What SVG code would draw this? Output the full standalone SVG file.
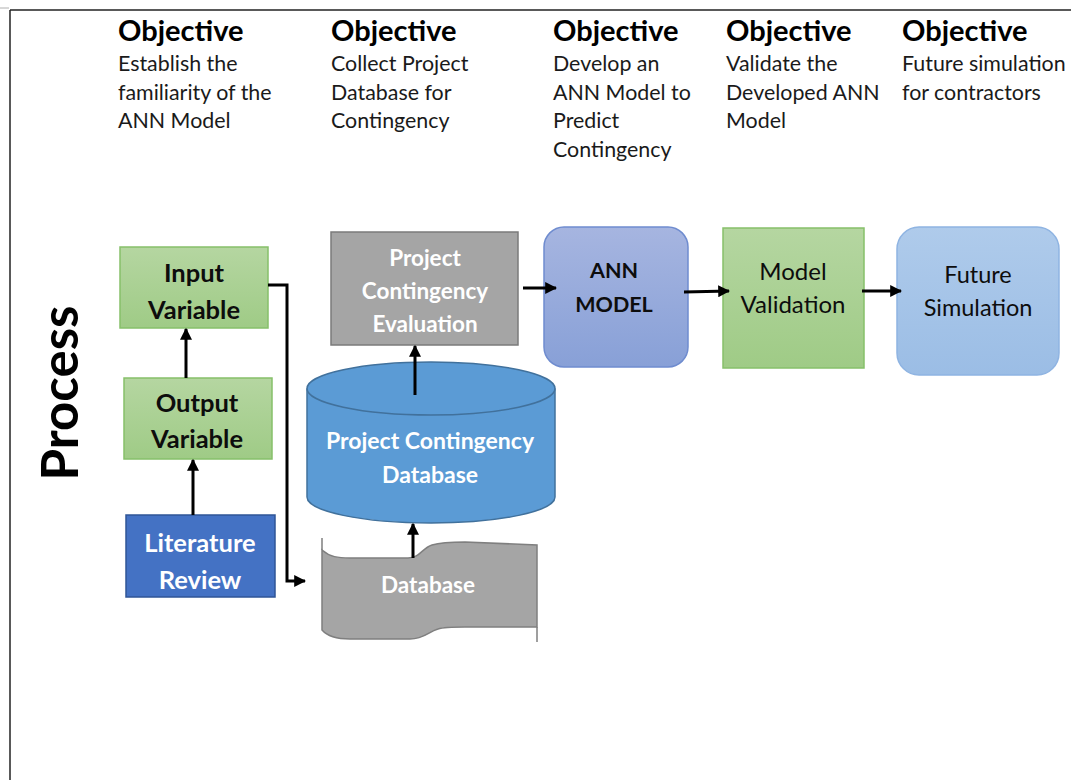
<svg xmlns="http://www.w3.org/2000/svg" width="1071" height="780" viewBox="0 0 1071 780">
  <style>
    .hd { font-family: Lato, "Liberation Sans", sans-serif; font-weight: 700; font-size: 29px; fill: #000; }
    .bd { font-family: Lato, "Liberation Sans", sans-serif; font-size: 21.4px; fill: #1a1a1a; }
    .lb { font-family: Lato, "Liberation Sans", sans-serif; font-weight: 700; text-anchor: middle; }
    .lr { font-family: Lato, "Liberation Sans", sans-serif; font-weight: 400; text-anchor: middle; }
    .dk { fill: #0d0d0d; }
    .wt { fill: #ffffff; }
    .green { fill: url(#gGreen); stroke: #86c06a; stroke-width: 1.5; }
    .conn { fill: none; stroke: #000; stroke-width: 3; }
  </style>
  <defs>
    <linearGradient id="gGreen" x1="0" y1="0" x2="0" y2="1">
      <stop offset="0" stop-color="#b5d6a1"/>
      <stop offset="1" stop-color="#9fcb86"/>
    </linearGradient>
    <linearGradient id="gAnn" x1="0" y1="0" x2="0" y2="1">
      <stop offset="0" stop-color="#a6b5e0"/>
      <stop offset="1" stop-color="#88a0d7"/>
    </linearGradient>
    <linearGradient id="gFut" x1="0" y1="0" x2="0" y2="1">
      <stop offset="0" stop-color="#afcbeb"/>
      <stop offset="1" stop-color="#9bbde5"/>
    </linearGradient>
    <marker id="ah" viewBox="0 0 10 10" refX="9" refY="5" markerWidth="4" markerHeight="4" orient="auto" markerUnits="strokeWidth">
      <path d="M0,0 L10,5 L0,10 Z" fill="#000"/>
    </marker>
  </defs>

  <rect width="1071" height="780" fill="#ffffff"/>

  <!-- table frame -->
  <g id="frame">
    <line x1="0" y1="8" x2="9" y2="8" stroke="#b0b0b0" stroke-width="1"/>
    <line x1="10" y1="10" x2="1071" y2="10" stroke="#222" stroke-width="1.5"/>
    <line x1="10" y1="10" x2="10" y2="780" stroke="#222" stroke-width="1.5"/>
  </g>

  <!-- objective headings -->
  <g id="objectives">
    <text class="hd" x="118" y="41">Objective</text>
    <text class="bd" x="118" y="71">Establish the</text>
    <text class="bd" x="118" y="100">familiarity of the</text>
    <text class="bd" x="118" y="128">ANN Model</text>

    <text class="hd" x="331" y="41">Objective</text>
    <text class="bd" x="331" y="71">Collect Project</text>
    <text class="bd" x="331" y="100">Database for</text>
    <text class="bd" x="331" y="128">Contingency</text>

    <text class="hd" x="553" y="41">Objective</text>
    <text class="bd" x="553" y="71">Develop an</text>
    <text class="bd" x="553" y="100">ANN Model to</text>
    <text class="bd" x="553" y="128">Predict</text>
    <text class="bd" x="553" y="157">Contingency</text>

    <text class="hd" x="726" y="41">Objective</text>
    <text class="bd" x="726" y="71">Validate the</text>
    <text class="bd" x="726" y="100">Developed ANN</text>
    <text class="bd" x="726" y="128">Model</text>

    <text class="hd" x="902" y="41">Objective</text>
    <text class="bd" x="902" y="71">Future simulation</text>
    <text class="bd" x="902" y="100">for contractors</text>
  </g>

  <text id="process-label" transform="translate(78,393) rotate(-90)" text-anchor="middle" font-family="Lato, 'Liberation Sans', sans-serif" font-weight="700" font-size="51" fill="#000">Process</text>

  <!-- nodes -->
  <g id="input-variable">
    <rect class="green" x="120" y="247" width="148" height="81"/>
    <text class="lb dk" x="194" y="282" font-size="25.5">Input</text>
    <text class="lb dk" x="194" y="319" font-size="25.5">Variable</text>
  </g>

  <g id="output-variable">
    <rect class="green" x="124" y="378" width="148" height="81"/>
    <text class="lb dk" x="197" y="412" font-size="25.5">Output</text>
    <text class="lb dk" x="197" y="448" font-size="25.5">Variable</text>
  </g>

  <g id="literature-review">
    <rect x="126" y="515" width="149" height="82" fill="#4472c4" stroke="#2f5597" stroke-width="1.5"/>
    <text class="lb wt" x="200" y="552" font-size="25.5">Literature</text>
    <text class="lb wt" x="200" y="589" font-size="25.5">Review</text>
  </g>

  <g id="contingency-evaluation">
    <rect x="331" y="232" width="187" height="113" fill="#a5a5a5" stroke="#7b7b7b" stroke-width="1.5"/>
    <text class="lb wt" x="425" y="266" font-size="22.5">Project</text>
    <text class="lb wt" x="425" y="299" font-size="22.5">Contingency</text>
    <text class="lb wt" x="425" y="332" font-size="22.5">Evaluation</text>
  </g>

  <g id="contingency-database">
    <path d="M307,388.5 L307,497 A124,26 0 0 0 555,497 L555,388.5 A124,26.5 0 0 0 307,388.5 Z" fill="#5b9bd5" stroke="#41719c" stroke-width="1.5"/>
    <path d="M307,388.5 A124,26.5 0 0 0 555,388.5" fill="none" stroke="#41719c" stroke-width="1.5"/>
    <text class="lb wt" x="430" y="449" font-size="23">Project Contingency</text>
    <text class="lb wt" x="430" y="483" font-size="23">Database</text>
  </g>

  <g id="database">
    <path d="M322,550 C330,557 338,558 350,558 L408,558 C420,558 422,548 432,545 C442,542 452,542 465,542 L537,545 L537,627 L465,627 C452,627 444,627 438,629 C428,632 424,639 410,639 L350,639 C338,639 328,637 322,630 Z" fill="#a5a5a5" stroke="#7f7f7f" stroke-width="1.5"/>
    <line x1="322" y1="538" x2="322" y2="550" stroke="#7f7f7f" stroke-width="1.5"/>
    <line x1="537" y1="627" x2="537" y2="642" stroke="#7f7f7f" stroke-width="1.5"/>
    <text class="lb wt" x="428" y="593" font-size="22.5">Database</text>
  </g>

  <g id="ann-model">
    <rect x="544" y="227" width="144" height="140" rx="20" fill="url(#gAnn)" stroke="#6f8ccf" stroke-width="1.5"/>
    <text class="lb dk" x="614" y="278" font-size="21.5">ANN</text>
    <text class="lb dk" x="614" y="312" font-size="21.5">MODEL</text>
  </g>

  <g id="model-validation">
    <rect class="green" x="723" y="228" width="141" height="140"/>
    <text class="lr dk" x="793" y="280" font-size="24">Model</text>
    <text class="lr dk" x="793" y="313" font-size="24">Validation</text>
  </g>

  <g id="future-simulation">
    <rect x="897" y="227" width="162" height="148" rx="22" fill="url(#gFut)" stroke="#8fb4e2" stroke-width="1.5"/>
    <text class="lr dk" x="978" y="283" font-size="23.5">Future</text>
    <text class="lr dk" x="978" y="316" font-size="23.5">Simulation</text>
  </g>

  <!-- connectors -->
  <g id="connectors">
    <path class="conn" d="M193,515 L193,460" marker-end="url(#ah)"/>
    <path class="conn" d="M186,378 L186,329" marker-end="url(#ah)"/>
    <path class="conn" d="M268,285 L287,285 L287,581 L305,581" marker-end="url(#ah)"/>
    <path class="conn" d="M415,395 L415,346" marker-end="url(#ah)"/>
    <path class="conn" d="M413,558 L413,524" marker-end="url(#ah)"/>
    <path class="conn" d="M523,288 L556,288" marker-end="url(#ah)"/>
    <path class="conn" d="M684,292 L729,291" marker-end="url(#ah)"/>
    <path class="conn" d="M862,291 L901,291" marker-end="url(#ah)"/>
  </g>
</svg>
